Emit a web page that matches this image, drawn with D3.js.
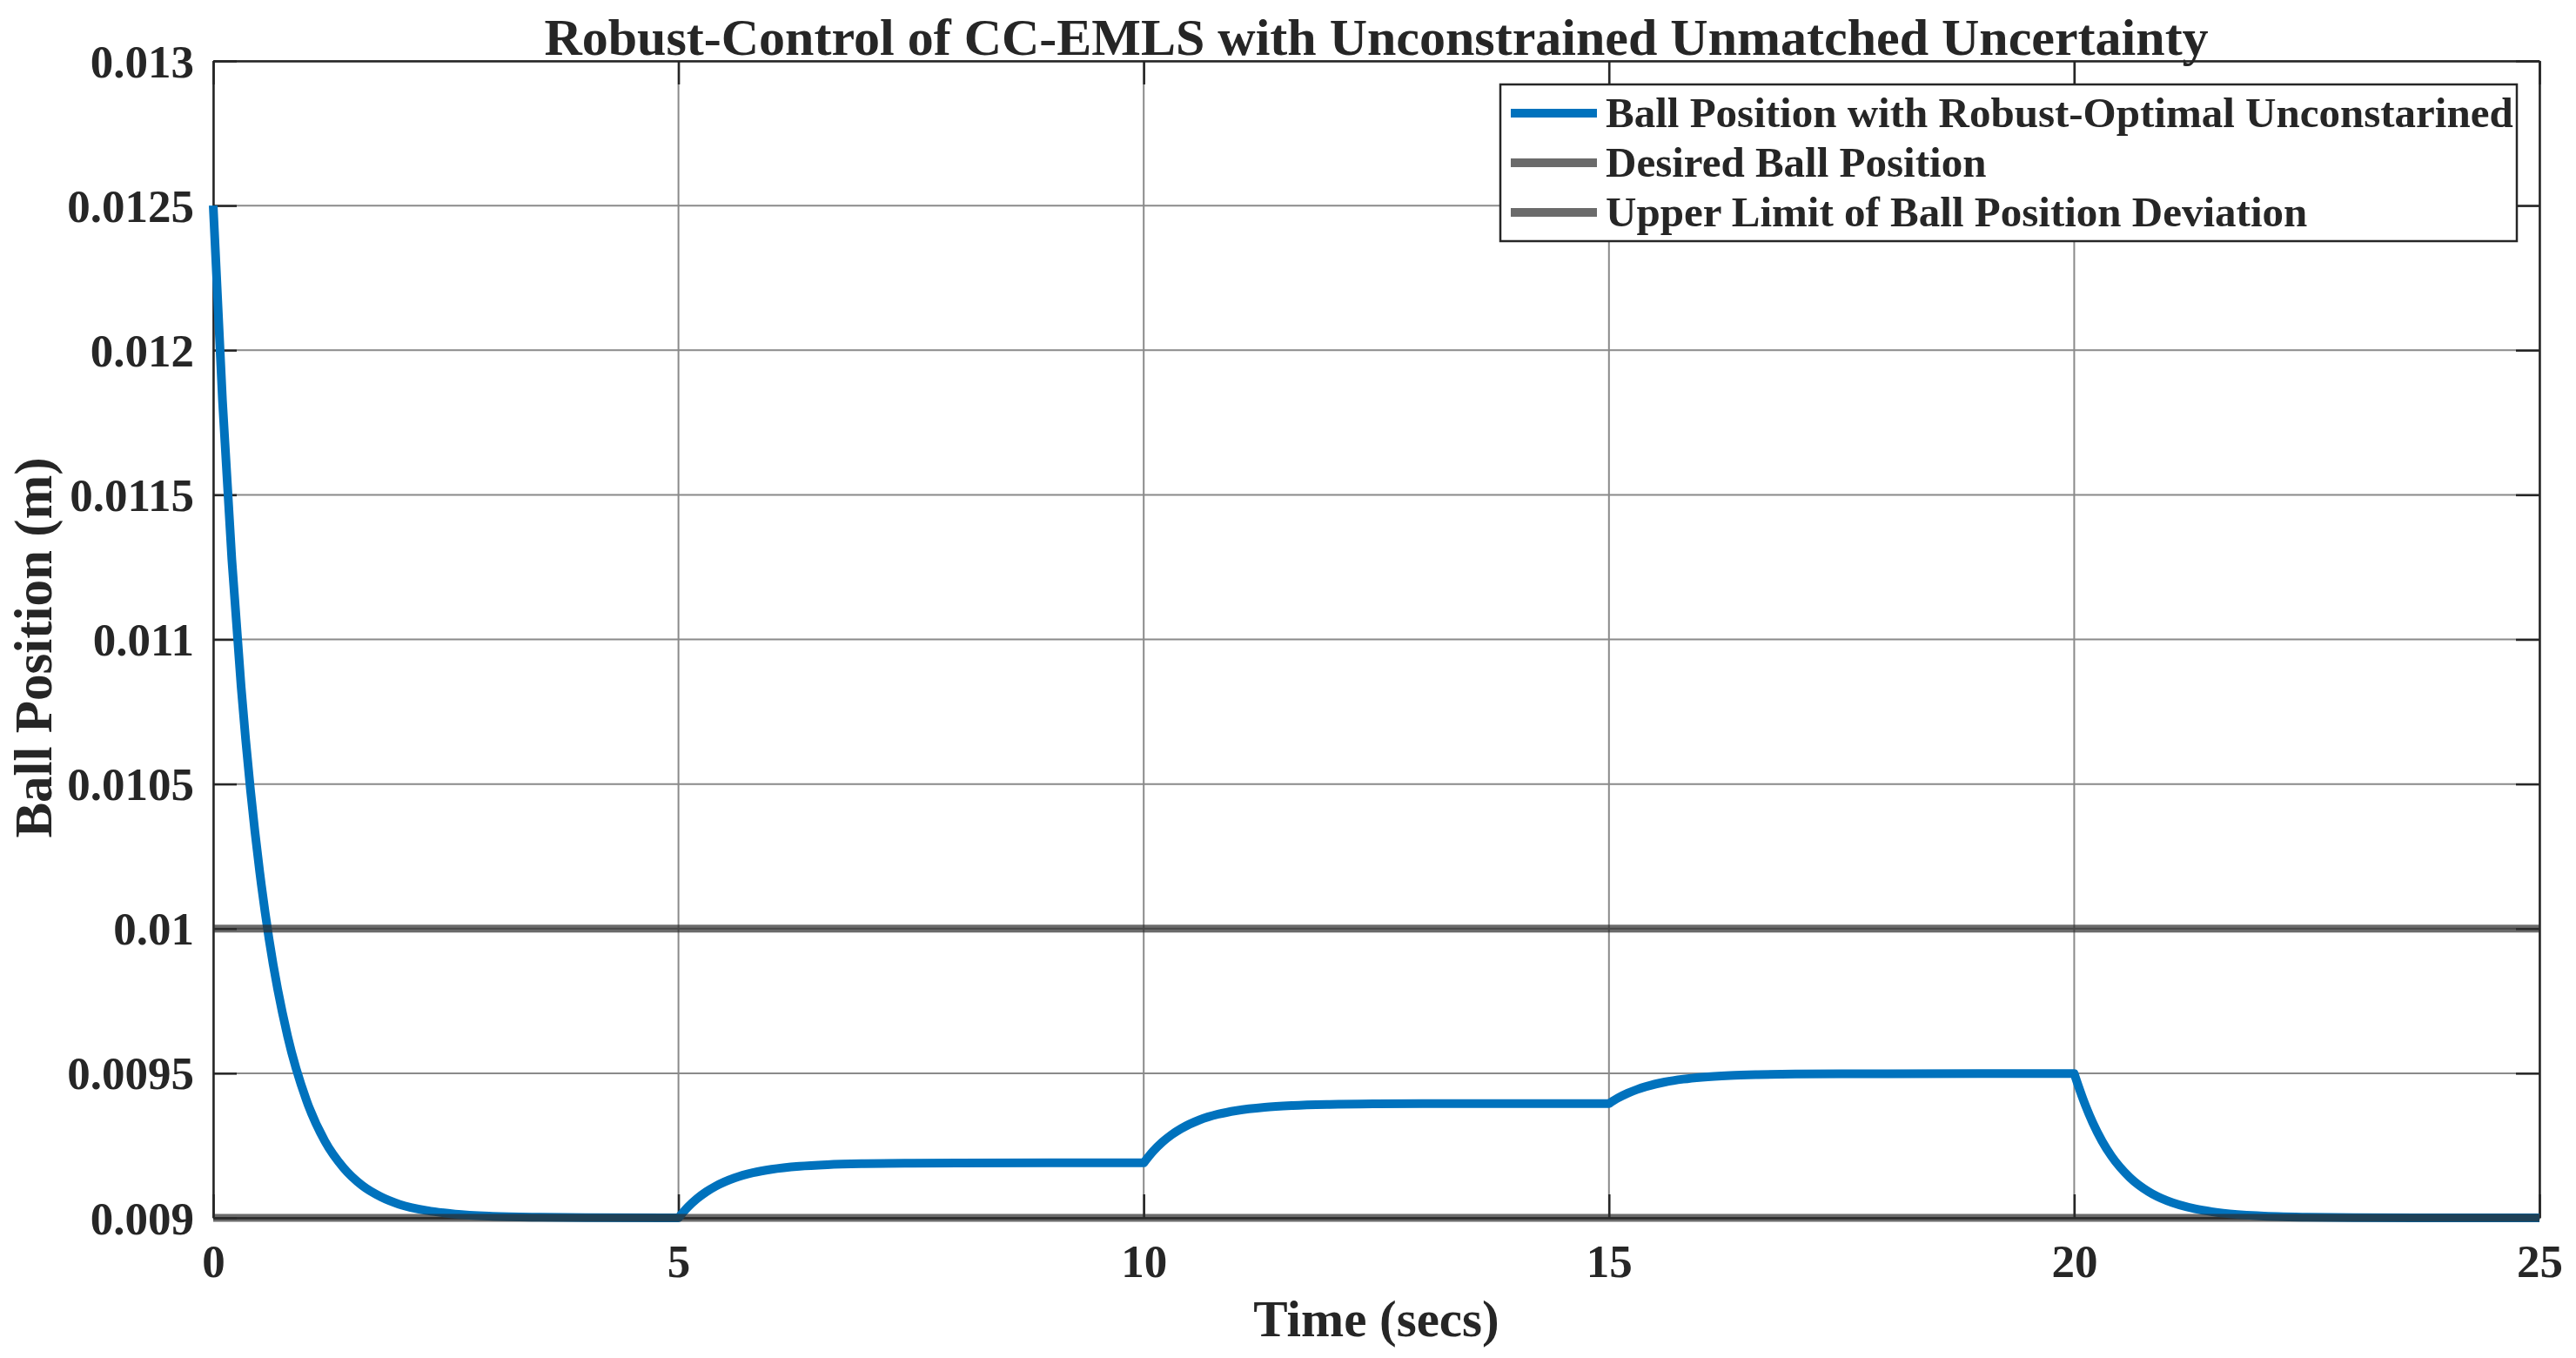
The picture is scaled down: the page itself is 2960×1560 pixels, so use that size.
<!DOCTYPE html>
<html>
<head>
<meta charset="utf-8">
<script src="https://cdn.jsdelivr.net/npm/d3@7"></script>
<style>
  html, body { margin: 0; padding: 0; background: #fff; }
  svg { display: block; }
  text { font-family: "Liberation Serif", "Times New Roman", serif; font-weight: bold; fill: #262626; }
</style>
</head>
<body>
<svg id="chart" width="2960" height="1560"></svg>
<script>
// ---------------- DATA ----------------
const chartTitle = "Robust-Control of CC-EMLS with Unconstrained Unmatched Uncertainty";
const xLabel = "Time (secs)";
const yLabel = "Ball Position (m)";

const xTicks = [0, 5, 10, 15, 20, 25];
const xTickLabels = ["0", "5", "10", "15", "20", "25"];
const yTicks = [0.009, 0.0095, 0.01, 0.0105, 0.011, 0.0115, 0.012, 0.0125, 0.013];
const yTickLabels = ["0.009", "0.0095", "0.01", "0.0105", "0.011", "0.0115", "0.012", "0.0125", "0.013"];

const legendLabels = [
  "Ball Position with Robust-Optimal Unconstarined",
  "Desired Ball Position",
  "Upper Limit of Ball Position Deviation"
];

// Ball position, piecewise (one segment per 5 s disturbance interval)
const seg1Time = [0, 0.1, 0.2, 0.3, 0.4, 0.5, 0.6, 0.8, 1.0, 1.2, 1.4, 1.6, 1.8, 2.0, 2.3, 2.6, 3.0, 3.5, 4.0, 5.0];
const seg1Pos  = [0.0125, 0.011823, 0.011277, 0.010836, 0.010481, 0.010195, 0.009964, 0.009627, 0.009408, 0.009265,
                  0.009173, 0.009112, 0.009073, 0.009047, 0.009025, 0.009013, 0.0090055, 0.0090019, 0.0090006, 0.009];

const seg2Time = [5, 5.1, 5.2, 5.3, 5.4, 5.6, 5.8, 6.0, 6.3, 6.6, 7.0, 7.5, 8.0, 9.0, 10.0];
const seg2Pos  = [0.009, 0.0090368, 0.0090664, 0.0090903, 0.0091096, 0.0091377, 0.009156, 0.0091679, 0.0091784,
                  0.0091839, 0.0091874, 0.0091891, 0.0091897, 0.00919, 0.00919];

const seg3Time = [10, 10.1, 10.2, 10.3, 10.4, 10.6, 10.8, 11.0, 11.3, 11.6, 12.0, 12.5, 13.0, 14.0, 15.0];
const seg3Pos  = [0.00919, 0.0092297, 0.0092616, 0.0092874, 0.0093082, 0.0093386, 0.0093583, 0.0093711, 0.0093825,
                  0.0093884, 0.0093922, 0.0093941, 0.0093947, 0.009395, 0.009395];

const seg4Time = [15, 15.1, 15.2, 15.3, 15.4, 15.6, 15.8, 16.0, 16.3, 16.6, 17.0, 17.5, 18.0, 19.0, 20.0];
const seg4Pos  = [0.009395, 0.0094146, 0.0094306, 0.0094436, 0.0094541, 0.0094695, 0.0094796, 0.0094862, 0.0094921,
                  0.0094951, 0.0094971, 0.009498, 0.0094983, 0.0094985, 0.0094985];

const seg5Time = [20, 20.1, 20.2, 20.3, 20.4, 20.6, 20.8, 21.0, 21.3, 21.6, 22.0, 22.5, 23.0, 24.0, 25.0];
const seg5Pos  = [0.0094985, 0.0094061, 0.0093285, 0.009265, 0.0092137, 0.009139, 0.0090904, 0.0090588, 0.0090309,
                  0.0090162, 0.0090069, 0.0090023, 0.0090008, 0.0090001, 0.009];

const desiredPos = 0.009;
const upperLimitPos = 0.01;
const timeRange = [0, 25];
const posRange = [0.009, 0.013];

// ---------------- LAYOUT ----------------
const svg = d3.select("#chart");
const W = 2960, H = 1560;
const margin = { left: 245, right: 42, top: 70, bottom: 161 };
const iw = W - margin.left - margin.right;
const ih = H - margin.top - margin.bottom;

const x = d3.scaleLinear().domain(timeRange).range([0, iw]);
const y = d3.scaleLinear().domain(posRange).range([ih, 0]);

const g = svg.append("g").attr("transform", `translate(${margin.left},${margin.top})`);

const axisColor = "#262626";
const gridColor = "#8a8a8a";
const blue = "#0072BD";
const refColor = "rgb(44,44,44)";
const refOpacity = 0.70;
const tickLen = 27;

// grid
g.append("g").selectAll("line").data(xTicks).join("line")
  .attr("x1", d => x(d)).attr("x2", d => x(d)).attr("y1", 0).attr("y2", ih)
  .attr("stroke", gridColor).attr("stroke-width", 2);
g.append("g").selectAll("line").data(yTicks).join("line")
  .attr("y1", d => y(d)).attr("y2", d => y(d)).attr("x1", 0).attr("x2", iw)
  .attr("stroke", gridColor).attr("stroke-width", 2);

// axes via d3 axis (inward ticks)
const xAxisB = d3.axisBottom(x).tickValues(xTicks).tickFormat((d, i) => xTickLabels[i]).tickSizeInner(-tickLen).tickSizeOuter(0).tickPadding(68);
const xAxisT = d3.axisTop(x).tickValues(xTicks).tickFormat("").tickSizeInner(-tickLen).tickSizeOuter(0);
const yAxisL = d3.axisLeft(y).tickValues(yTicks).tickFormat((d, i) => yTickLabels[i]).tickSizeInner(-tickLen).tickSizeOuter(0).tickPadding(22);
const yAxisR = d3.axisRight(y).tickValues(yTicks).tickFormat("").tickSizeInner(-tickLen).tickSizeOuter(0);

function styleAxis(sel) {
  sel.selectAll(".domain").attr("stroke", axisColor).attr("stroke-width", 2.5);
  sel.selectAll(".tick line").attr("stroke", axisColor).attr("stroke-width", 2.5);
  sel.selectAll(".tick text").attr("font-family", "'Liberation Serif', 'Times New Roman', serif")
     .attr("font-weight", "bold").attr("font-size", 53).attr("fill", axisColor);
}
const gxB = g.append("g").attr("transform", `translate(0,${ih})`).call(xAxisB).call(styleAxis);
gxB.selectAll(".tick text").attr("dy", "0");
const gxT = g.append("g").call(xAxisT).call(styleAxis);
const gyL = g.append("g").call(yAxisL).call(styleAxis);
gyL.selectAll(".tick text").attr("dy", "0.34em");
const gyR = g.append("g").attr("transform", `translate(${iw},0)`).call(yAxisR).call(styleAxis);

// ball position curve
const line = d3.line().x(d => x(d[0])).y(d => y(d[1])).curve(d3.curveMonotoneX);
const segments = [
  [seg1Time, seg1Pos], [seg2Time, seg2Pos], [seg3Time, seg3Pos], [seg4Time, seg4Pos], [seg5Time, seg5Pos]
];
const pathD = segments.map(([t, p]) => line(t.map((tv, i) => [tv, p[i]]))).map((s, i) => i === 0 ? s : s.replace(/^M/, "L")).join("");
g.append("path").attr("d", pathD).attr("fill", "none").attr("stroke", blue)
  .attr("stroke-width", 10).attr("stroke-linejoin", "round").attr("stroke-linecap", "butt");

// reference lines
g.append("g").selectAll("line").data([desiredPos, upperLimitPos]).join("line")
  .attr("x1", x(timeRange[0])).attr("x2", x(timeRange[1]))
  .attr("y1", d => y(d)).attr("y2", d => y(d))
  .attr("stroke", refColor).attr("stroke-opacity", refOpacity).attr("stroke-width", 9);

// title and labels
svg.append("text").attr("x", margin.left + iw / 2).attr("y", 63)
  .attr("text-anchor", "middle").attr("font-size", 60).attr("fill", "#000").text(chartTitle);
svg.append("text").attr("x", margin.left + iw / 2).attr("y", 1535)
  .attr("text-anchor", "middle").attr("font-size", 59).attr("fill", axisColor).text(xLabel);
svg.append("text").attr("transform", `translate(59,744) rotate(-90)`)
  .attr("text-anchor", "middle").attr("font-size", 61).attr("fill", axisColor).text(yLabel);

// legend
const lg = svg.append("g");
const lgX = 1724, lgY = 97, lgW = 1168, lgH = 180;
lg.append("rect").attr("x", lgX).attr("y", lgY).attr("width", lgW).attr("height", lgH)
  .attr("fill", "#fff").attr("stroke", axisColor).attr("stroke-width", 2.5);
const rowY = [130, 187, 244];
const legendStyles = [
  { color: blue, opacity: 1 },
  { color: refColor, opacity: refOpacity },
  { color: refColor, opacity: refOpacity }
];
legendLabels.forEach((lab, i) => {
  lg.append("line").attr("x1", 1736).attr("x2", 1835).attr("y1", rowY[i]).attr("y2", rowY[i])
    .attr("stroke", legendStyles[i].color).attr("stroke-opacity", legendStyles[i].opacity).attr("stroke-width", 10);
  lg.append("text").attr("x", 1845).attr("y", rowY[i] + 16).attr("font-size", 49).attr("fill", "#000").text(lab);
});
</script>
</body>
</html>
